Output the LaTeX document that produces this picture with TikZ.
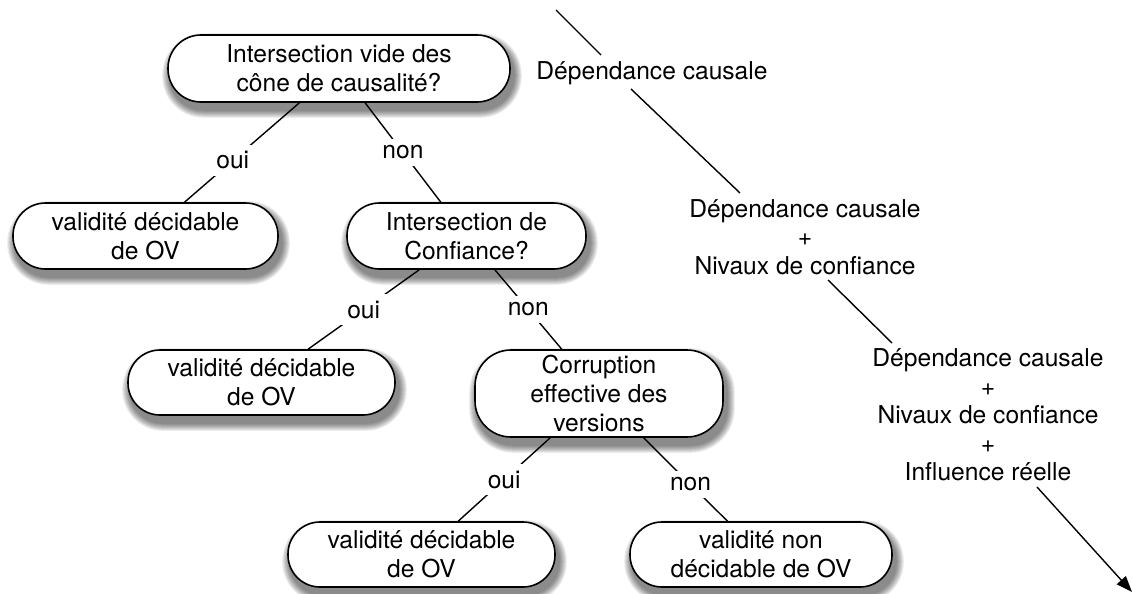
\documentclass[tikz,border=0pt]{standalone}
\usepackage{fontspec}
\setmainfont{TeX Gyre Heros}
\usetikzlibrary{arrows.meta}
\pgfdeclarelayer{bg}
\pgfsetlayers{bg,main}
\newcommand\dfs{\fontsize{24.6}{28.6}\selectfont}
\begin{document}
\begin{tikzpicture}[x=1pt,y=-1pt,
  box/.style={draw, line width=1.6pt, fill=white, align=center, font=\dfs, inner sep=0pt},
  lbl/.style={fill=white, font=\dfs, inner sep=7pt},
  txt/.style={align=center, font=\dfs, inner sep=0pt},
  conn/.style={line width=1.4pt}]
\useasboundingbox (0,0) rectangle (1133,594);
% boxes
\node[box, minimum width=342pt, minimum height=67pt, rounded corners=33pt] (A) at (339,68.5) {Intersection vide des\\cône de causalité?};
\node[box, minimum width=265pt, minimum height=66pt, rounded corners=32.5pt] (B) at (145.5,236) {validité décidable\\de OV};
\node[box, minimum width=239pt, minimum height=66pt, rounded corners=32.5pt] (C) at (466.5,236) {Intersection de\\Confiance?};
\node[box, minimum width=267pt, minimum height=65pt, rounded corners=32pt] (D) at (261.5,382.5) {validité décidable\\de OV};
\node[box, minimum width=248pt, minimum height=87pt, rounded corners=36pt] (E) at (599,393.5) {Corruption\\effective des\\versions};
\node[box, minimum width=267pt, minimum height=65pt, rounded corners=32pt] (F) at (421.5,554.5) {validité décidable\\de OV};
\node[box, minimum width=262pt, minimum height=65pt, rounded corners=32pt] (G) at (761,554.5) {validité non\\décidable de OV};
% tree edges
\draw[conn] (A) -- node[lbl,pos=0.58]{oui} (B);
\draw[conn] (A) -- node[lbl,pos=0.5]{non} (C);
\draw[conn] (C) -- node[lbl,pos=0.5]{oui} (D);
\draw[conn] (C) -- node[lbl,pos=0.5]{non} (E);
\draw[conn] (E) -- node[lbl,pos=0.5]{oui} (F);
\draw[conn] (E) -- node[lbl,pos=0.56]{non} (G);
% right column
\node[txt] (d1) at (652,73) {Dépendance causale};
\node[txt] (d2) at (805,237) {Dépendance causale\\+\\Nivaux de confiance};
\node[txt] (d3) at (988,415) {Dépendance causale\\+\\Nivaux de confiance\\+\\Influence réelle};
\coordinate (t0) at (556,10);
\coordinate (t1) at (1132,592);
\draw[conn] (t0) -- ([xshift=-51pt,yshift=18pt]d1.center);
\draw[conn] ([xshift=-21pt,yshift=-16pt]d1.center) -- ([xshift=-65pt,yshift=44pt]d2.center);
\draw[conn] ([xshift=23pt,yshift=-43pt]d2.center) -- ([xshift=-96pt,yshift=72pt]d3.center);
\draw[conn,-{Triangle[length=16pt,width=12pt]}] ([xshift=49pt,yshift=-72pt]d3.center) -- (t1);
% background and soft shadows
\begin{pgfonlayer}{bg}
\fill[white] (0,0) rectangle (1133,594);
\foreach \n/\r in {A/33.5,B/33,C/33,D/32.5,E/36,F/32.5,G/32.5}{
  \foreach \e in {1,...,8}{
    \pgfmathsetmacro\rr{\r+\e}
    \pgfmathsetmacro\xa{3-\e}
    \pgfmathsetmacro\xb{3+\e}
    \pgfmathsetmacro\ya{-7-\e}
    \pgfmathsetmacro\yb{-7+\e}
    \fill[black, opacity=0.07, rounded corners=\rr pt]
      ([xshift=\xa pt, yshift=\ya pt]\n.south west) rectangle ([xshift=\xb pt, yshift=\yb pt]\n.north east);
  }
}
\end{pgfonlayer}
\end{tikzpicture}
\end{document}
